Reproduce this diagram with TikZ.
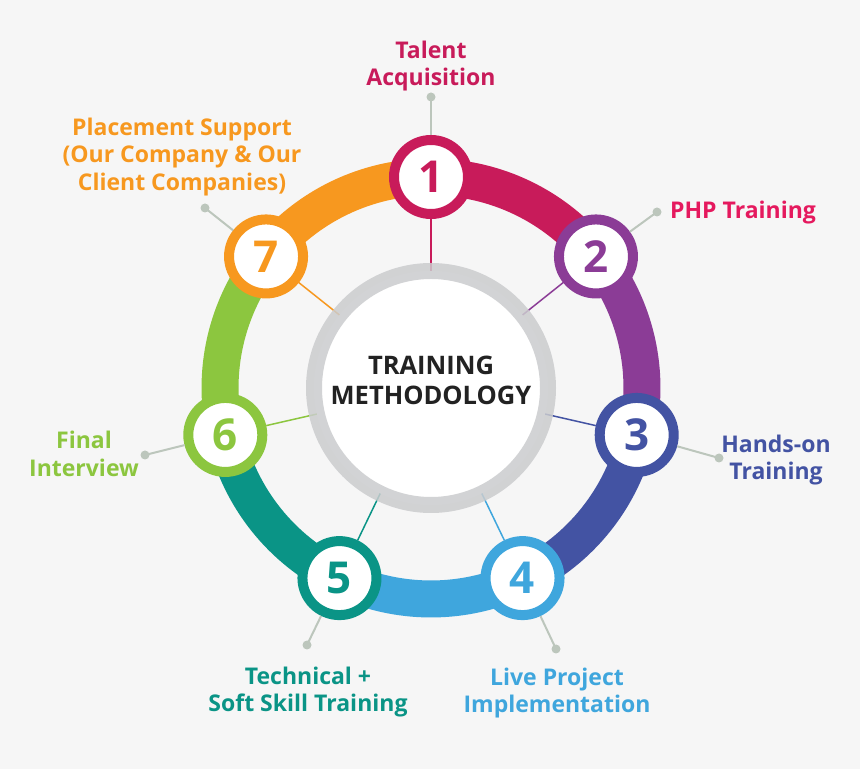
\documentclass[tikz,border=0pt]{standalone}
\usepackage{fontspec}
\setmainfont{Open Sans}
\usetikzlibrary{calc}
\definecolor{bg}{HTML}{F6F6F6}
\definecolor{c1}{HTML}{C81B5A}
\definecolor{c2}{HTML}{8B3C96}
\definecolor{c3}{HTML}{4353A3}
\definecolor{c4}{HTML}{3FA6DD}
\definecolor{c5}{HTML}{0A9486}
\definecolor{c6}{HTML}{8CC63F}
\definecolor{c7}{HTML}{F7981F}
\definecolor{php}{HTML}{E5195E}
\definecolor{ringgray}{HTML}{CBCCCE}
\definecolor{leadgray}{HTML}{BCC6BC}
\definecolor{darktext}{HTML}{222222}
\tikzset{
  numcircle/.style={circle, fill=white, line width=10pt, minimum size=74pt, inner sep=0pt,
    font=\fontsize{44}{44}\selectfont\bfseries},
  band/.style={line width=37pt},
  spoke/.style={line width=1.5pt},
  leader/.style={leadgray, line width=2pt},
  labeltext/.style={align=center, inner sep=0pt, font=\fontsize{23}{27.5}\selectfont\bfseries},
}
\begin{document}
\begin{tikzpicture}[x=1pt,y=1pt]
\fill[bg] (0,0) rectangle (860,769);
\useasboundingbox (0,0) rectangle (860,769);
\coordinate (C) at (431,381);
% ring bands
\foreach \k/\col in {1/c1,2/c2,3/c3,4/c4,5/c5,6/c6,7/c7}{
  \pgfmathsetmacro\a{90-(\k-1)*360/7}
  \draw[band, \col] ($(C)+(\a:211)$) arc[start angle=\a, delta angle=-51.4286, radius=211];
}
% nodes, spokes
\foreach \k/\col in {1/c1,2/c2,3/c3,4/c4,5/c5,6/c6,7/c7}{
  \pgfmathsetmacro\a{90-(\k-1)*360/7}
  \coordinate (s\k) at ($(C)+(\a:110)$);
  \node[numcircle, draw=\col, text=\col] (n\k) at ($(C)+(\a:211)$) {\k};
  \draw[spoke, \col] (n\k) -- (s\k);
}
% center circle
\node[circle, minimum size=234pt, inner sep=0pt, fill=white, draw=ringgray, draw opacity=0.85, line width=16pt] (ctr) at (C) {};
\node[align=center, inner sep=0pt, text=darktext, font=\fontsize{25.5}{30}\selectfont\bfseries] (title) at (431,389) {TRAINING\\METHODOLOGY};
% leader dots
\coordinate (d1) at (431,672);
\coordinate (d2) at (657,557);
\coordinate (d3) at (719,311);
\coordinate (d4) at (556,120);
\coordinate (d5) at (307,124);
\coordinate (d6) at (145,314);
\coordinate (d7) at (205,561);
\foreach \k in {1,...,7}{
  \draw[leader] (n\k) -- (d\k);
  \fill[leadgray] (d\k) circle (4.5);
}
% labels
\node[labeltext, text=c1] (l1) at (431,703) {Talent\\Acquisition};
\node[labeltext, text=php, anchor=west] (l2) at (670,556) {PHP Training};
\node[labeltext, text=c3] (l3) at (776,309) {Hands-on\\Training};
\node[labeltext, text=c4] (l4) at (557,76) {Live Project\\Implementation};
\node[labeltext, text=c5] (l5) at (308,77) {Technical +\\Soft Skill Training};
\node[labeltext, text=c6] (l6) at (84,315) {Final\\Interview};
\node[labeltext, text=c7] (l7) at (182,612) {Placement Support\\(Our Company \& Our\\Client Companies)};
\end{tikzpicture}
\end{document}
